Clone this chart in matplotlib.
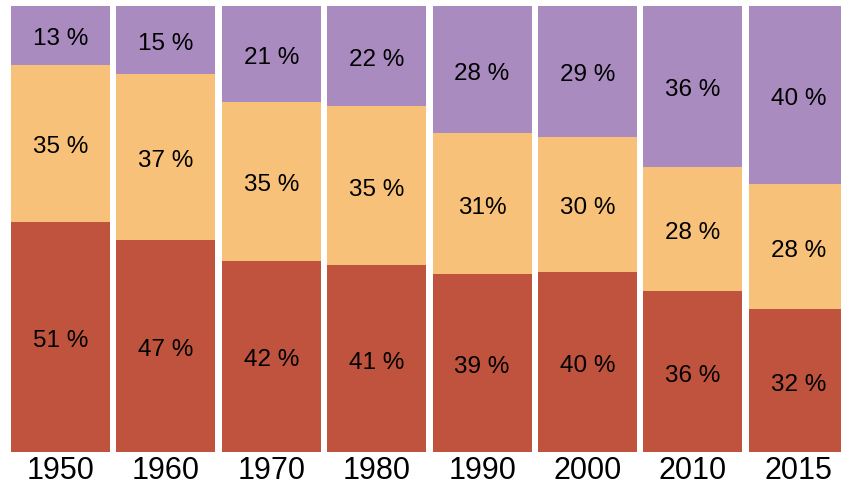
import numpy as np
import matplotlib.pyplot as plt
from matplotlib.transforms import offset_copy

plt.rcParams['font.family'] = ['Liberation Sans', 'DejaVu Sans']

years = ['1950', '1960', '1970', '1980', '1990', '2000', '2010', '2015']
bottom_vals = [51, 47, 42, 41, 39, 40, 36, 32]
middle_vals = [35, 37, 35, 35, 31, 30, 28, 28]
top_vals = [13, 15, 21, 22, 28, 29, 36, 40]

bottom_labels = ['51 %', '47 %', '42 %', '41 %', '39 %', '40 %', '36 %', '32 %']
middle_labels = ['35 %', '37 %', '35 %', '35 %', '31%', '30 %', '28 %', '28 %']
top_labels = ['13 %', '15 %', '21 %', '22 %', '28 %', '29 %', '36 %', '40 %']

colors = ['#C0533E', '#F8C17A', '#AA8BC0']

# bars fill the full height, so scale each column to its own total
b = np.array(bottom_vals, dtype=float)
m = np.array(middle_vals, dtype=float)
t = np.array(top_vals, dtype=float)
total = b + m + t
b, m, t = b / total, m / total, t / total

fig = plt.figure(figsize=(8.41, 4.87), dpi=100)
ax = fig.add_axes([0, 0.0719, 1, 0.9158])

x = np.arange(len(years))
w = 0.94
ax.bar(x, b, w, color=colors[0], linewidth=0)
ax.bar(x, m, w, bottom=b, color=colors[1], linewidth=0)
ax.bar(x, t, w, bottom=b + m, color=colors[2], linewidth=0)

# labels sit a touch below the segment centre in the original
tr = offset_copy(ax.transData, fig=fig, x=0, y=-4, units='dots')
for i in range(len(years)):
    ax.text(x[i], b[i] / 2, bottom_labels[i], ha='center', va='center',
            fontsize=17.5, transform=tr)
    ax.text(x[i], b[i] + m[i] / 2, middle_labels[i], ha='center', va='center',
            fontsize=17.5, transform=tr)
    ax.text(x[i], b[i] + m[i] + t[i] / 2, top_labels[i], ha='center', va='center',
            fontsize=17.5, transform=tr)

ax.set_xlim(-0.574, 7.405)
ax.set_ylim(0, 1)
ax.set_xticks(x)
ax.set_xticklabels(years, fontsize=22)
ax.tick_params(axis='x', length=0, pad=3)
ax.set_yticks([])
for s in ax.spines.values():
    s.set_visible(False)

fig.savefig('out.png', dpi=100)
